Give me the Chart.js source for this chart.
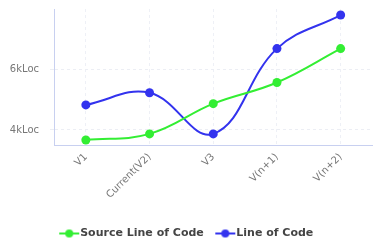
<!DOCTYPE html>
<html><head><meta charset="utf-8">
<script src="https://cdn.jsdelivr.net/npm/chart.js@4/dist/chart.umd.min.js"></script>
<style>html,body{margin:0;padding:0;background:#fff}#w{width:377px;height:246px}</style>
</head><body><div id="w"><canvas id="c"></canvas></div>
<script>
const categories = ["V1", "Current(V2)", "V3", "V(n+1)", "V(n+2)"];
const sourceLoc = [3670, 3870, 4870, 5570, 6690];
const lineLoc = [4830, 5230, 3870, 6690, 7800];
const yTicks = [4000, 6000];

function legendIcon(color) {
  const c = document.createElement('canvas');
  c.width = 22; c.height = 10;
  const g = c.getContext('2d');
  g.strokeStyle = color; g.lineWidth = 2;
  g.beginPath(); g.moveTo(1, 5); g.lineTo(21, 5); g.stroke();
  g.fillStyle = color; g.beginPath(); g.arc(11, 5, 4, 0, Math.PI * 2); g.fill();
  return c;
}
const green = '#33ee33', blue = '#3333ee';
new Chart(document.getElementById('c'), {
  type: 'line',
  data: {
    labels: categories,
    datasets: [
      { label: 'Source Line of Code', data: sourceLoc, borderColor: green, backgroundColor: green,
        pointRadius: 4.5, pointBackgroundColor: green, pointBorderWidth: 0, borderWidth: 2, tension: 0.4 },
      { label: 'Line of Code', data: lineLoc, borderColor: blue, backgroundColor: blue,
        pointRadius: 4.5, pointBackgroundColor: blue, pointBorderWidth: 0, borderWidth: 2, tension: 0.4 }
    ]
  },
  options: {
    responsive: true, maintainAspectRatio: false, animation: false,
    layout: { padding: { top: 9, right: 0, left: 0, bottom: -3 } },
    plugins: {
      tooltip: { enabled: false },
      legend: {
        position: 'bottom',
        labels: {
          font: { family: 'DejaVu Sans', size: 11, weight: 'bold' }, color: '#444',
          usePointStyle: true, boxWidth: 22, boxHeight: 10, padding: 16,
          generateLabels(chart) {
            return chart.data.datasets.map((d, i) => ({
              text: d.label, pointStyle: legendIcon(d.borderColor), fillStyle: d.borderColor,
              strokeStyle: d.borderColor, lineWidth: 0, hidden: false, datasetIndex: i, fontColor: '#444'
            }));
          }
        }
      }
    },
    scales: {
      x: {
        offset: true,
        afterFit(s) { s.height += 5; },
        grid: { offset: false, color: '#eef0f6', drawTicks: false, tickLength: 0 },
        border: { color: '#c8d0f0', dash: [3, 3] },
        ticks: { minRotation: 45, maxRotation: 45, color: '#777', font: { family: 'DejaVu Sans', size: 10 }, padding: 6 }
      },
      y: {
        min: 3500, max: 8000,
        afterBuildTicks(s) { s.ticks = yTicks.map(v => ({ value: v })); },
        afterFit(s) { s.width = 54; s.paddingTop = 0; s.paddingBottom = 0; },
        grid: { color: '#eceef4', drawTicks: true, tickLength: 4 },
        border: { color: '#c8d0f0', dash: [3, 3] },
        ticks: { color: '#777', font: { family: 'DejaVu Sans', size: 10 }, callback: v => (v / 1000) + 'kLoc', padding: 11 }
      }
    }
  }
});
</script></body></html>
